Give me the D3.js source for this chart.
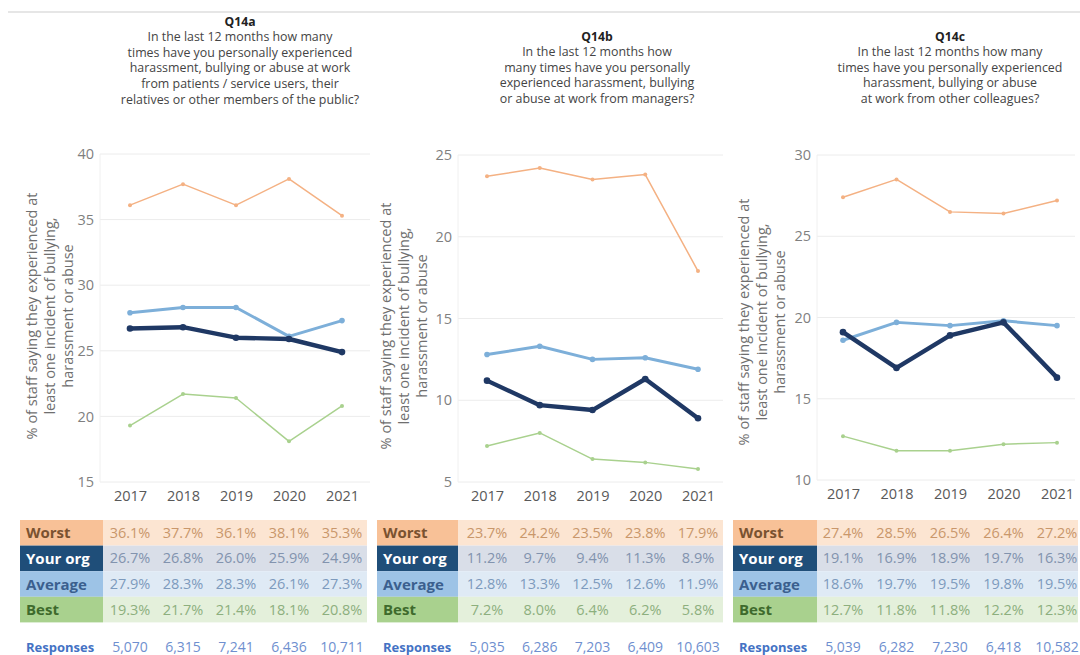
<!DOCTYPE html>
<html>
<head>
<meta charset="utf-8">
<script src="https://cdn.jsdelivr.net/npm/d3@7"></script>
<style>
  body { margin: 0; background: #fff; }
  svg { display: block; font-family: "Open Sans", sans-serif; }
</style>
</head>
<body>
<svg id="chart" width="1080" height="655"></svg>
<script>
// ---- data ----
const years = ["2017", "2018", "2019", "2020", "2021"];
const seriesNames = ["Worst", "Your org", "Average", "Best"];
const yAxisTitle = ["% of staff saying they experienced at", "least one incident of bullying,", "harassment or abuse"];

const q14aTitle = ["In the last 12 months how many", "times have you personally experienced", "harassment, bullying or abuse at work", "from patients / service users, their", "relatives or other members of the public?"];
const q14aTicks = [15, 20, 25, 30, 35, 40];
const q14aWorst = [36.1, 37.7, 36.1, 38.1, 35.3];
const q14aYourOrg = [26.7, 26.8, 26.0, 25.9, 24.9];
const q14aAverage = [27.9, 28.3, 28.3, 26.1, 27.3];
const q14aBest = [19.3, 21.7, 21.4, 18.1, 20.8];
const q14aResponses = [5070, 6315, 7241, 6436, 10711];

const q14bTitle = ["In the last 12 months how", "many times have you personally", "experienced harassment, bullying", "or abuse at work from managers?"];
const q14bTicks = [5, 10, 15, 20, 25];
const q14bWorst = [23.7, 24.2, 23.5, 23.8, 17.9];
const q14bYourOrg = [11.2, 9.7, 9.4, 11.3, 8.9];
const q14bAverage = [12.8, 13.3, 12.5, 12.6, 11.9];
const q14bBest = [7.2, 8.0, 6.4, 6.2, 5.8];
const q14bResponses = [5035, 6286, 7203, 6409, 10603];

const q14cTitle = ["In the last 12 months how many", "times have you personally experienced", "harassment, bullying or abuse", "at work from other colleagues?"];
const q14cTicks = [10, 15, 20, 25, 30];
const q14cWorst = [27.4, 28.5, 26.5, 26.4, 27.2];
const q14cYourOrg = [19.1, 16.9, 18.9, 19.7, 16.3];
const q14cAverage = [18.6, 19.7, 19.5, 19.8, 19.5];
const q14cBest = [12.7, 11.8, 11.8, 12.2, 12.3];
const q14cResponses = [5039, 6282, 7230, 6418, 10582];

// ---- styling per series ----
const seriesStyle = {
  "Worst":    { line: "#F4B183", width: 1.5, r: 2.0, labelBg: "#F8C197", labelFg: "#7A5230", rowBg: "#FCE5D2", valFg: "#C9976B" },
  "Your org": { line: "#1F3864", width: 4.4, r: 3.3, labelBg: "#1F4E79", labelFg: "#FFFFFF", rowBg: "#D9DEE8", valFg: "#8293AE" },
  "Average":  { line: "#7DAFD9", width: 3.0, r: 2.8, labelBg: "#9DC3E6", labelFg: "#3B5F8E", rowBg: "#DFEAF5", valFg: "#7D9ABD" },
  "Best":     { line: "#A9D18E", width: 1.5, r: 2.0, labelBg: "#A9D18E", labelFg: "#3E6A2C", rowBg: "#E4F0DB", valFg: "#8DAF7E" }
};
const drawOrder = ["Best", "Worst", "Average", "Your org"];

const panels = [
  { code: "Q14a", title: q14aTitle, ticks: q14aTicks,
    values: { "Worst": q14aWorst, "Your org": q14aYourOrg, "Average": q14aAverage, "Best": q14aBest },
    responses: q14aResponses,
    layout: { gx0: 100, gx1: 370, px0: 130, px1: 342, yTop: 154, yBot: 482,
              titleCx: 240, titleY: 21, ytX: 32, ytCy: 316, tx0: 20, tLab: 103, tx1: 367 } },
  { code: "Q14b", title: q14bTitle, ticks: q14bTicks,
    values: { "Worst": q14bWorst, "Your org": q14bYourOrg, "Average": q14bAverage, "Best": q14bBest },
    responses: q14bResponses,
    layout: { gx0: 458, gx1: 723, px0: 487, px1: 698, yTop: 155, yBot: 482,
              titleCx: 597, titleY: 36, ytX: 386, ytCy: 326, tx0: 377, tLab: 458, tx1: 723 } },
  { code: "Q14c", title: q14cTitle, ticks: q14cTicks,
    values: { "Worst": q14cWorst, "Your org": q14cYourOrg, "Average": q14cAverage, "Best": q14cBest },
    responses: q14cResponses,
    layout: { gx0: 817, gx1: 1075, px0: 843, px1: 1057, yTop: 155, yBot: 480,
              titleCx: 950, titleY: 36, ytX: 744, ytCy: 322, tx0: 733, tLab: 817, tx1: 1078 } }
];

const svg = d3.select("#chart");

// top rule
svg.append("line")
  .attr("x1", 8).attr("x2", 1080).attr("y1", 12).attr("y2", 12)
  .attr("stroke", "#e6e6e6").attr("stroke-width", 2);

const rowTop = 520, rowH = 25.6, respY = 647;
const fmtResp = d3.format(",");

panels.forEach(p => {
  const L = p.layout;
  const g = svg.append("g");

  // question heading
  const head = g.append("text").attr("text-anchor", "middle");
  head.append("tspan").attr("x", L.titleCx).attr("y", L.titleY + 4.5)
    .attr("font-weight", 700).attr("font-size", 12.2).attr("fill", "#222").text(p.code);
  p.title.forEach((t, i) => {
    head.append("tspan").attr("x", L.titleCx).attr("y", L.titleY + 4.5 + 15.6 * (i + 1))
      .attr("font-size", 12.4).attr("fill", "#444").text(t);
  });

  // scales
  const x = d3.scalePoint().domain(years).range([L.px0, L.px1]);
  const y = d3.scaleLinear().domain(d3.extent(p.ticks)).range([L.yBot, L.yTop]);

  // gridlines
  g.append("g").selectAll("line").data(p.ticks).join("line")
    .attr("x1", L.gx0).attr("x2", L.gx1)
    .attr("y1", d => y(d)).attr("y2", d => y(d))
    .attr("stroke", "#ececec").attr("stroke-width", 1);
  g.append("line").attr("x1", L.gx0).attr("x2", L.gx0)
    .attr("y1", y.range()[1]).attr("y2", y.range()[0])
    .attr("stroke", "#f0f0f0");

  // y axis tick labels
  const yAxis = d3.axisLeft(y).tickValues(p.ticks).tickSize(0).tickPadding(6);
  const ya = g.append("g").attr("transform", `translate(${L.gx0},0)`).call(yAxis);
  ya.select(".domain").remove();
  ya.selectAll("text").attr("font-size", 14.5).attr("fill", "#7f7f7f").attr("font-family", "Open Sans, sans-serif");

  // x axis year labels
  const xAxis = d3.axisBottom(x).tickSize(0).tickPadding(0);
  const xa = g.append("g").attr("transform", `translate(0,${L.yBot + 9})`).call(xAxis);
  xa.select(".domain").remove();
  xa.selectAll("text").attr("font-size", 14.5).attr("fill", "#595959").attr("font-family", "Open Sans, sans-serif");

  // y axis title
  const yt = g.append("text").attr("text-anchor", "middle")
    .attr("transform", `translate(${L.ytX},${L.ytCy}) rotate(-90)`)
    .attr("font-size", 14.5).attr("fill", "#6f6f6f");
  yAxisTitle.forEach((t, i) => {
    yt.append("tspan").attr("x", 0).attr("y", 5 + 18 * i).text(t);
  });

  // lines and markers
  const line = d3.line().x((d, i) => x(years[i])).y(d => y(d));
  drawOrder.forEach(name => {
    const s = seriesStyle[name];
    const vals = p.values[name];
    g.append("path").datum(vals)
      .attr("d", line).attr("fill", "none")
      .attr("stroke", s.line).attr("stroke-width", s.width)
      .attr("stroke-linejoin", "round").attr("stroke-linecap", "round");
    g.append("g").selectAll("circle").data(vals).join("circle")
      .attr("cx", (d, i) => x(years[i])).attr("cy", d => y(d))
      .attr("r", s.r).attr("fill", s.line);
  });

  // data table
  seriesNames.forEach((name, r) => {
    const s = seriesStyle[name];
    const top = rowTop + r * rowH;
    g.append("rect").attr("x", L.tLab).attr("y", top).attr("width", L.tx1 - L.tLab).attr("height", rowH)
      .attr("fill", s.rowBg);
    g.append("rect").attr("x", L.tx0).attr("y", top).attr("width", L.tLab - L.tx0).attr("height", rowH)
      .attr("fill", s.labelBg);
    g.append("text").attr("x", L.tx0 + 6).attr("y", top + rowH / 2 + 5.5)
      .attr("font-size", 15).attr("font-weight", 700).attr("fill", s.labelFg).text(name);
    g.append("g").selectAll("text").data(p.values[name]).join("text")
      .attr("x", (d, i) => x(years[i])).attr("y", top + rowH / 2 + 5)
      .attr("text-anchor", "middle").attr("font-size", 14.5).attr("fill", s.valFg)
      .text(d => d.toFixed(1) + "%");
  });

  // responses row
  g.append("text").attr("x", L.tx0 + 6).attr("y", respY + 4.5)
    .attr("font-size", 13).attr("font-weight", 700).attr("fill", "#4472C4").text("Responses");
  g.append("g").selectAll("text").data(p.responses).join("text")
    .attr("x", (d, i) => x(years[i])).attr("y", respY + 5)
    .attr("text-anchor", "middle").attr("font-size", 14).attr("fill", "#6F8FCF")
    .text(d => fmtResp(d));
});
</script>
</body>
</html>
